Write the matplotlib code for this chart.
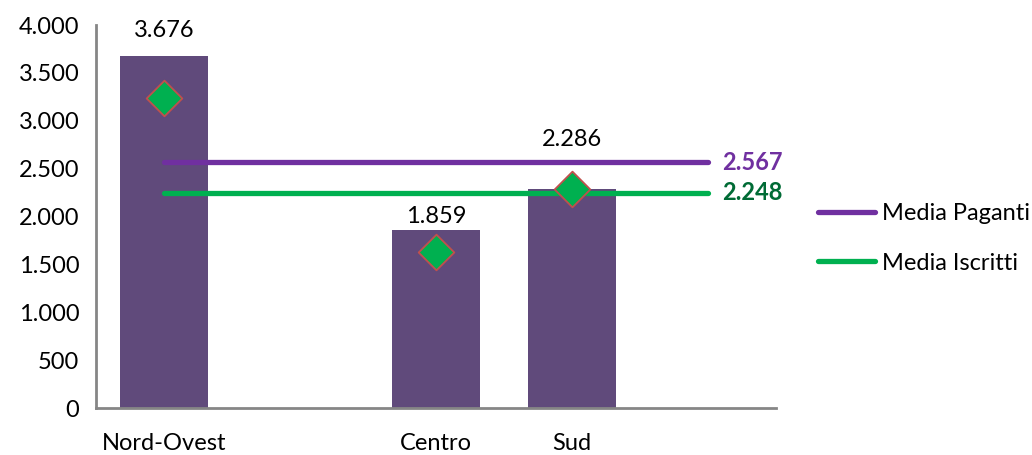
import matplotlib.pyplot as plt
from matplotlib.ticker import FuncFormatter

# Data
categorie = ["Nord-Ovest", "", "Centro", "Sud", ""]
valori_bar = [3676, None, 1859, 2286, None]
valori_rombo = [3235, None, 1635, 2293, None]
media_paganti = 2567
media_iscritti = 2248

plt.rcParams['font.family'] = ['Lato', 'DejaVu Sans']

fig = plt.figure(figsize=(10.32, 4.55), dpi=100)
ax = fig.add_axes([0.093, 0.103, 0.659, 0.842])

x = list(range(len(categorie)))
bx = [i for i, v in zip(x, valori_bar) if v is not None]
bv = [v for v in valori_bar if v is not None]
ax.bar(bx, bv, width=0.65, color="#604A7B", zorder=2)

# average lines from first to last category
ax.plot([x[0], x[-1]], [media_paganti] * 2, color="#7030A0", lw=3.8,
        solid_capstyle="round", zorder=3, label="Media Paganti")
ax.plot([x[0], x[-1]], [media_iscritti] * 2, color="#00B050", lw=3.8,
        solid_capstyle="round", zorder=3, label="Media Iscritti")

rx = [i for i, v in zip(x, valori_rombo) if v is not None]
rv = [v for v in valori_rombo if v is not None]
ax.scatter(rx, rv, marker="D", s=330, color="#00B050", edgecolor="#C0504D",
           linewidth=1.3, zorder=4)

# bar value labels
offsets = {0: 11, 2: 2, 3: 28}
for xi, v in zip(bx, bv):
    ax.annotate(f"{v:,}".replace(",", "."), (xi, v), xytext=(0, offsets[xi]),
                textcoords="offset points", ha="center", va="bottom",
                fontsize=17, color="black")

ax.annotate(f"{media_paganti:,}".replace(",", "."), (x[-1], media_paganti),
            xytext=(10, 0), textcoords="offset points", ha="left", va="center",
            fontsize=17, fontweight="bold", color="#7030A0")
ax.annotate(f"{media_iscritti:,}".replace(",", "."), (x[-1], media_iscritti),
            xytext=(10, 0), textcoords="offset points", ha="left", va="center",
            fontsize=17, fontweight="bold", color="#006B35")

ax.set_xlim(-0.5, len(categorie) - 0.5)
ax.set_ylim(0, 4000)
ax.set_yticks(range(0, 4001, 500))
ax.yaxis.set_major_formatter(FuncFormatter(lambda v, p: f"{int(v):,}".replace(",", ".")))
ax.set_xticks(x)
ax.set_xticklabels(categorie)
ax.tick_params(axis="both", length=0, labelsize=17)
ax.tick_params(axis="x", pad=18)
ax.tick_params(axis="y", pad=12)

for s in ["top", "right"]:
    ax.spines[s].set_visible(False)
for s in ["left", "bottom"]:
    ax.spines[s].set_color("#868686")
    ax.spines[s].set_linewidth(2)

fig.legend(loc="upper left", bbox_to_anchor=(0.772, 0.6), frameon=False,
           fontsize=17, handlelength=2.4, handletextpad=0.3, labelspacing=1.2)

fig.savefig("out.png", dpi=100)
